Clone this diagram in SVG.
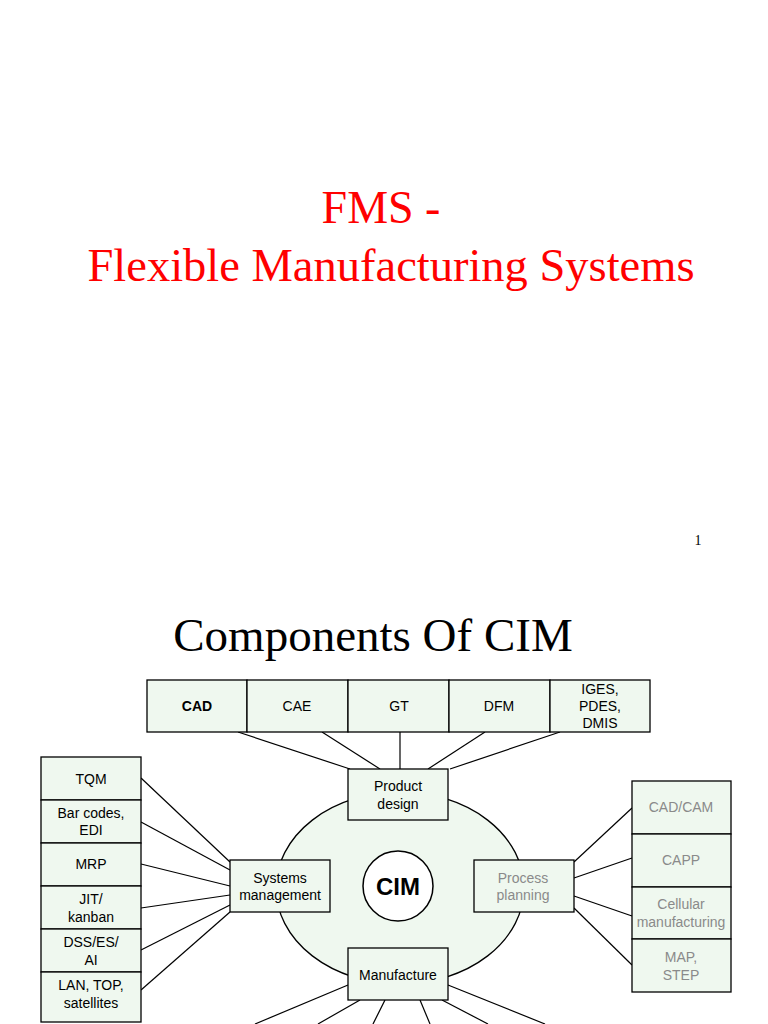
<svg xmlns="http://www.w3.org/2000/svg" width="768" height="1024" viewBox="0 0 768 1024">
<style>
.t{font-family:"Liberation Serif",serif;}
.b{fill:#eff8ef;stroke:#000;stroke-width:1.3}
.l{font-family:"Liberation Sans",Arial,sans-serif;font-size:14px;text-anchor:middle;fill:#000}
.g{fill:#8a8a8a}
.c line{stroke:#000;stroke-width:1.2}
</style>
<rect width="768" height="1024" fill="#fff"/>
<text class="t" x="381" y="223" font-size="46" fill="#ff0000" text-anchor="middle">FMS -</text>
<text class="t" x="391" y="281" font-size="46.5" fill="#ff0000" text-anchor="middle">Flexible Manufacturing Systems</text>
<text class="t" x="698" y="545" font-size="14" fill="#000" text-anchor="middle">1</text>
<text class="t" x="373" y="651" font-size="47" fill="#000" text-anchor="middle">Components Of CIM</text>
<g class="c">
<line x1="238" y1="732" x2="350" y2="769"/><line x1="322" y1="732" x2="380" y2="769"/><line x1="400" y1="732" x2="400" y2="769"/><line x1="485" y1="732" x2="428" y2="769"/><line x1="560" y1="732" x2="450" y2="769"/>
<line x1="141" y1="778" x2="230" y2="862"/><line x1="141" y1="822" x2="230" y2="870"/><line x1="141" y1="864" x2="230" y2="886"/><line x1="141" y1="908" x2="230" y2="895"/><line x1="141" y1="950" x2="230" y2="905"/><line x1="141" y1="990" x2="230" y2="912"/>
<line x1="574" y1="862" x2="632" y2="808"/><line x1="574" y1="878" x2="632" y2="858"/><line x1="574" y1="896" x2="632" y2="916"/><line x1="574" y1="908" x2="632" y2="965"/>
<line x1="348" y1="985" x2="255" y2="1024"/><line x1="360" y1="1000" x2="318" y2="1024"/><line x1="385" y1="1000" x2="373" y2="1024"/><line x1="420" y1="1000" x2="430" y2="1024"/><line x1="442" y1="1000" x2="488" y2="1024"/><line x1="448" y1="985" x2="545" y2="1024"/>
</g>
<g id="ring"><ellipse cx="400" cy="888" rx="124" ry="96" class="b" stroke-width="1.2"/></g>
<g id="cim"><circle cx="398" cy="886" r="35" fill="#fff" stroke="#000" stroke-width="1.5"/><text x="398" y="895" font-family="Liberation Sans,Arial,sans-serif" font-size="24" font-weight="bold" text-anchor="middle">CIM</text></g>
<g id="cad"><rect class="b" x="147" y="680" width="100" height="52"/><text class="l" x="197" y="711" font-weight="bold">CAD</text></g>
<g id="cae"><rect class="b" x="247" y="680" width="101" height="52"/><text class="l" x="297" y="711">CAE</text></g>
<g id="gt"><rect class="b" x="348" y="680" width="101" height="52"/><text class="l" x="399" y="711">GT</text></g>
<g id="dfm"><rect class="b" x="449" y="680" width="101" height="52"/><text class="l" x="499" y="711">DFM</text></g>
<g id="iges"><rect class="b" x="550" y="680" width="100" height="52"/><text class="l" x="600" y="694">IGES,</text><text class="l" x="600" y="711">PDES,</text><text class="l" x="600" y="728">DMIS</text></g>
<g id="pd"><rect class="b" x="348" y="769" width="100" height="51"/><text class="l" x="398" y="791">Product</text><text class="l" x="398" y="809">design</text></g>
<g id="sm"><rect class="b" x="230" y="860" width="100" height="52"/><text class="l" x="280" y="883">Systems</text><text class="l" x="280" y="900">management</text></g>
<g id="pp"><rect class="b" x="474" y="860" width="100" height="52"/><text class="l g" x="523" y="883">Process</text><text class="l g" x="523" y="900">planning</text></g>
<g id="mf"><rect class="b" x="348" y="948" width="100" height="52"/><text class="l" x="398" y="980">Manufacture</text></g>
<g id="tqm"><rect class="b" x="41" y="757" width="100" height="43"/><text class="l" x="91" y="784">TQM</text></g>
<g id="bar"><rect class="b" x="41" y="800" width="100" height="43"/><text class="l" x="91" y="818">Bar codes,</text><text class="l" x="91" y="835">EDI</text></g>
<g id="mrp"><rect class="b" x="41" y="843" width="100" height="43"/><text class="l" x="91" y="869">MRP</text></g>
<g id="jit"><rect class="b" x="41" y="886" width="100" height="43"/><text class="l" x="91" y="904">JIT/</text><text class="l" x="91" y="922">kanban</text></g>
<g id="dss"><rect class="b" x="41" y="929" width="100" height="43"/><text class="l" x="91" y="947">DSS/ES/</text><text class="l" x="91" y="965">AI</text></g>
<g id="lan"><rect class="b" x="41" y="972" width="100" height="50"/><text class="l" x="91" y="990">LAN, TOP,</text><text class="l" x="91" y="1008">satellites</text></g>
<g id="cadcam"><rect class="b" x="632" y="781" width="99" height="53"/><text class="l g" x="681" y="812">CAD/CAM</text></g>
<g id="capp"><rect class="b" x="632" y="834" width="99" height="53"/><text class="l g" x="681" y="865">CAPP</text></g>
<g id="cell"><rect class="b" x="632" y="887" width="99" height="52"/><text class="l g" x="681" y="909">Cellular</text><text class="l g" x="681" y="927">manufacturing</text></g>
<g id="map"><rect class="b" x="632" y="939" width="99" height="53"/><text class="l g" x="681" y="962">MAP,</text><text class="l g" x="681" y="980">STEP</text></g>
</svg>
